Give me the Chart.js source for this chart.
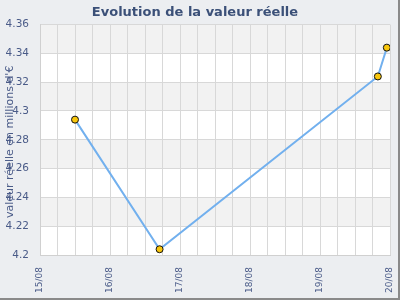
<!DOCTYPE html>
<html>
<head>
<meta charset="utf-8">
<script src="https://cdn.jsdelivr.net/npm/chart.js@4"></script>
<style>
  html, body { margin: 0; padding: 0; background: #fff; }
  #wrap {
    width: 398px; height: 298px;
    background: #eceef1;
    border-right: 2px solid #8a8a8a;
    border-bottom: 2px solid #8a8a8a;
  }
</style>
</head>
<body>
<div id="wrap"><canvas id="chart" width="398" height="298"></canvas></div>
<script>
// data
const dates = ["15/08 12:00", "16/08 17:00", "19/08 19:50", "19/08 22:55"];
const values = [4.294, 4.204, 4.324, 4.344];
const dayLabels = ["15/08", "16/08", "17/08", "18/08", "19/08", "20/08"];

const firstDay = 15;
const toDays = s => {
  const [d, t] = s.split(" ");
  const [hh, mm] = t.split(":").map(Number);
  return parseInt(d, 10) - firstDay + hh / 24 + mm / 1440;
};
const points = dates.map((d, i) => ({ x: toDays(d), y: values[i] }));

const textColor = "#4a5b88";

// alternating bands behind the grid
const bands = {
  id: "bands",
  beforeDraw(chart) {
    const { ctx, chartArea: a, scales: { y } } = chart;
    ctx.save();
    ctx.fillStyle = "#ffffff";
    ctx.fillRect(a.left, a.top, a.right - a.left, a.bottom - a.top);
    const ticks = y.ticks.map(t => t.value).sort((p, q) => q - p);
    ctx.fillStyle = "#f2f2f2";
    for (let i = 0; i < ticks.length - 1; i += 2) {
      const top = y.getPixelForValue(ticks[i]);
      const bot = y.getPixelForValue(ticks[i + 1]);
      ctx.fillRect(a.left, top, a.right - a.left, bot - top);
    }
    ctx.restore();
  }
};

// y axis title sits over the tick labels, as in the reference
const yTitle = {
  id: "yTitle",
  afterDraw(chart) {
    const { ctx, chartArea: a } = chart;
    ctx.save();
    ctx.translate(10, (a.top + a.bottom) / 2 + 2);
    ctx.rotate(-Math.PI / 2);
    ctx.font = "11px 'DejaVu Sans'";
    ctx.fillStyle = textColor;
    ctx.textAlign = "center";
    ctx.textBaseline = "middle";
    ctx.fillText("valeur réelle en millions d'€", 0, 0);
    ctx.restore();
  }
};

new Chart(document.getElementById("chart"), {
  type: "line",
  data: {
    datasets: [{
      data: points,
      borderColor: "#72b0ee",
      borderWidth: 2,
      tension: 0,
      pointRadius: 3.5,
      pointBackgroundColor: "#f8c60c",
      pointBorderColor: "#111",
      pointBorderWidth: 1
    }]
  },
  options: {
    responsive: false,
    devicePixelRatio: 1,
    animation: false,
    layout: { padding: { left: 0, right: 8, top: 0, bottom: 0 } },
    plugins: {
      legend: { display: false },
      tooltip: { enabled: false },
      title: {
        display: true,
        text: "Evolution de la valeur réelle",
        color: "#3b5078",
        font: { family: "'DejaVu Sans'", size: 13, weight: "bold" },
        padding: { top: 5, bottom: 4 }
      }
    },
    scales: {
      x: {
        type: "linear",
        min: 0,
        max: dayLabels.length - 1,
        grid: { color: "#d8d8d8", drawTicks: false },
        border: { color: "#d0d0d0" },
        afterFit: s => { s.height = 43; s.paddingLeft = 0; s.paddingRight = 0; },
        ticks: {
          stepSize: 0.25,
          autoSkip: false,
          minRotation: 90,
          maxRotation: 90,
          padding: 12,
          color: textColor,
          font: { family: "'DejaVu Sans'", size: 9 },
          callback: v => Number.isInteger(v) ? dayLabels[v] : ""
        }
      },
      y: {
        min: 4.2,
        max: 4.36,
        grid: { color: "#d8d8d8", drawTicks: false },
        border: { color: "#d0d0d0" },
        afterFit: s => { s.width = 40; },
        ticks: {
          stepSize: 0.02,
          padding: 11,
          color: textColor,
          font: { family: "'DejaVu Sans'", size: 10.5 },
          callback: v => String(parseFloat(v.toFixed(2)))
        }
      }
    }
  },
  plugins: [bands, yTitle]
});
</script>
</body>
</html>
